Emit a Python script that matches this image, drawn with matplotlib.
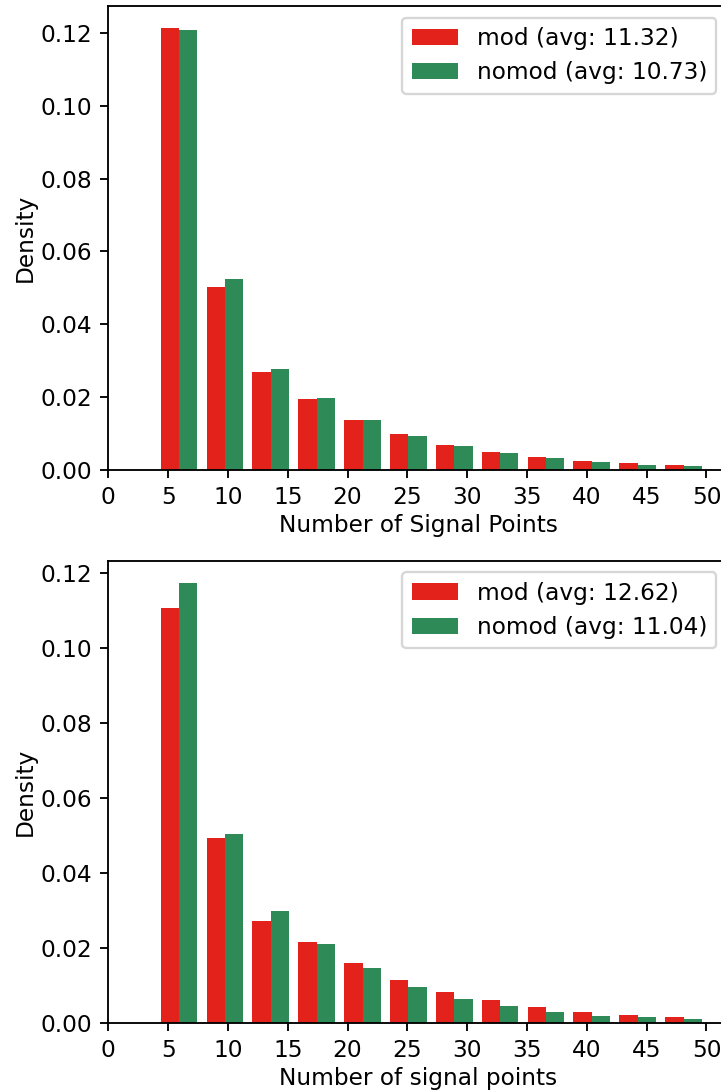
import numpy as np
import matplotlib
matplotlib.use("Agg")
import matplotlib.pyplot as plt

# histogram bins (number of signal points)
edges = np.linspace(4, 50, 13)
centres = (edges[:-1] + edges[1:]) / 2

# densities per bin, first dataset
mod_a = [0.1213, 0.0502, 0.0270, 0.0195, 0.0138, 0.0098, 0.0070, 0.0049, 0.0035, 0.0025, 0.0018, 0.0015]
nomod_a = [0.1209, 0.0523, 0.0277, 0.0198, 0.0136, 0.0094, 0.0066, 0.0046, 0.0032, 0.0022, 0.0015, 0.0011]
avg_a = (11.32, 10.73)

# densities per bin, second dataset
mod_b = [0.1108, 0.0493, 0.0272, 0.0218, 0.0160, 0.0115, 0.0084, 0.0061, 0.0044, 0.0030, 0.0023, 0.0016]
nomod_b = [0.1175, 0.0504, 0.0299, 0.0211, 0.0147, 0.0098, 0.0066, 0.0047, 0.0030, 0.0020, 0.0016, 0.0010]
avg_b = (12.62, 11.04)

colors = ['#e3221b', '#2e8b57']

DPI = 167
fig = plt.figure(figsize=(721 / DPI, 1091 / DPI), dpi=DPI)
ax1 = fig.add_axes([0.1502, 0.5692, 0.8595, 0.4253])
ax2 = fig.add_axes([0.1502, 0.0621, 0.8595, 0.4240])

def plota(ax, mod, nomod, avg, xlabel):
	ax.hist([centres, centres], bins=edges, weights=[mod, nomod], color=colors,
			label=[f"mod (avg: {avg[0]:.2f})", f"nomod (avg: {avg[1]:.2f})"])
	ax.set_xlim(0, 51.8)
	ax.set_xticks(np.arange(0, 51, 5))
	ax.set_xlabel(xlabel, labelpad=2)
	ax.set_ylabel("Density", labelpad=1.5)
	ax.legend(loc='upper right')

plota(ax1, mod_a, nomod_a, avg_a, "Number of Signal Points")
plota(ax2, mod_b, nomod_b, avg_b, "Number of signal points")

fig.savefig('out.png', dpi=DPI)
